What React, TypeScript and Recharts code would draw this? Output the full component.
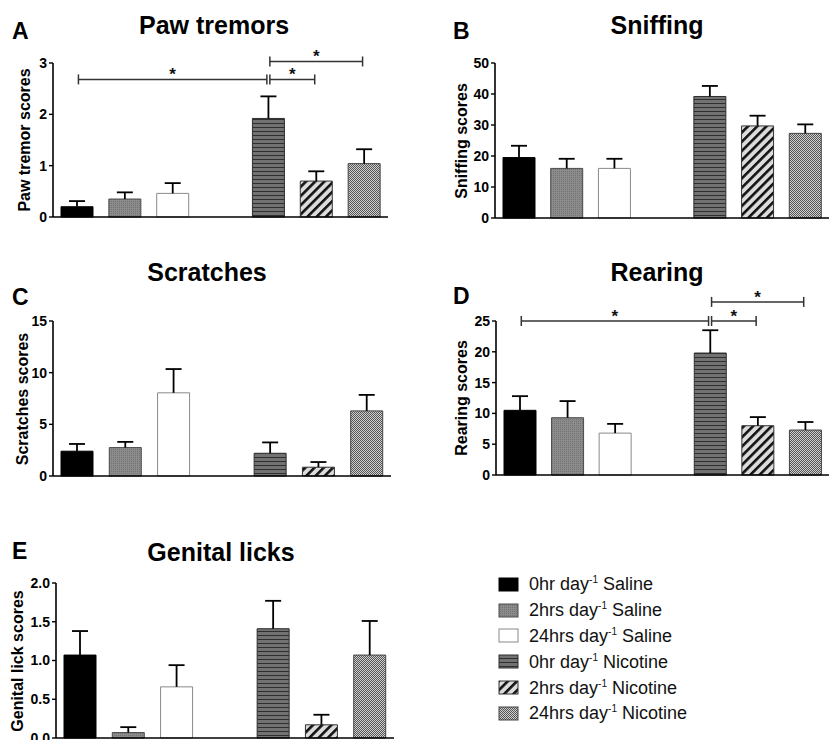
import React from 'react';
import { BarChart, Bar, XAxis, YAxis, Cell, ReferenceLine } from 'recharts';

// seven slots on the x axis, the middle one is left empty
const groups = ['0hr Saline', '2hrs Saline', '24hrs Saline', 'gap', '0hr Nicotine', '2hrs Nicotine', '24hrs Nicotine'];

const legendDose = ['0hr', '2hrs', '24hrs', '0hr', '2hrs', '24hrs'];
const legendDrug = ['Saline', 'Saline', 'Saline', 'Nicotine', 'Nicotine', 'Nicotine'];

const pawMean = [0.2, 0.35, 0.46, null, 1.92, 0.7, 1.04];
const pawSem = [0.11, 0.13, 0.2, null, 0.43, 0.19, 0.28];
const pawTicks = [0, 1, 2, 3];
const pawBrackets = [
  { from: '0hr Saline', to: '0hr Nicotine', y: 2.68 },
  { from: '0hr Nicotine', to: '2hrs Nicotine', y: 2.68 },
  { from: '0hr Nicotine', to: '24hrs Nicotine', y: 3.03 },
];

const sniffMean = [19.5, 16, 16, null, 39.2, 29.7, 27.3];
const sniffSem = [3.8, 3.1, 3.1, null, 3.4, 3.3, 2.9];
const sniffTicks = [0, 10, 20, 30, 40, 50];

const scratchMean = [2.4, 2.75, 8.05, null, 2.2, 0.85, 6.3];
const scratchSem = [0.7, 0.55, 2.3, null, 1.05, 0.5, 1.55];
const scratchTicks = [0, 5, 10, 15];

const rearMean = [10.5, 9.3, 6.8, null, 19.8, 8.0, 7.3];
const rearSem = [2.3, 2.7, 1.5, null, 3.7, 1.4, 1.3];
const rearTicks = [0, 5, 10, 15, 20, 25];
const rearBrackets = [
  { from: '0hr Saline', to: '0hr Nicotine', y: 25 },
  { from: '0hr Nicotine', to: '2hrs Nicotine', y: 25 },
  { from: '0hr Nicotine', to: '24hrs Nicotine', y: 28.1 },
];

const genitalMean = [1.07, 0.07, 0.66, null, 1.41, 0.17, 1.07];
const genitalSem = [0.31, 0.07, 0.28, null, 0.36, 0.13, 0.44];
const genitalTicks = [0, 0.5, 1, 1.5, 2];

const FONT = '"Liberation Sans", Arial, sans-serif';

const barStyles = [
  { fill: '#000', stroke: '#000' },
  { fill: 'url(#stipple)', stroke: '#4a4a4a' },
  { fill: '#fff', stroke: '#8a8a8a' },
  { fill: 'none', stroke: 'none' },
  { fill: 'url(#hstripe)', stroke: '#2e2e2e' },
  { fill: 'url(#diag)', stroke: '#333' },
  { fill: 'url(#check)', stroke: '#444' },
];

function Patterns() {
  return (
    <svg width={0} height={0} style={{ position: 'absolute' }}>
      <defs>
        <pattern id="stipple" width={2} height={2} patternUnits="userSpaceOnUse">
          <rect width={2} height={2} fill="#8c8c8c" />
          <rect width={1} height={1} fill="#727272" />
        </pattern>
        <pattern id="hstripe" width={4} height={4} patternUnits="userSpaceOnUse">
          <rect width={4} height={4} fill="#727272" />
          <rect y={0} width={4} height={1} fill="#2f2f2f" />
        </pattern>
        <pattern id="diag" width={6.5} height={10} patternUnits="userSpaceOnUse" patternTransform="rotate(45)">
          <rect width={6.5} height={10} fill="#dcdcdc" />
          <rect width={2.6} height={10} fill="#111" />
        </pattern>
        <pattern id="check" width={2} height={2} patternUnits="userSpaceOnUse">
          <rect width={2} height={2} fill="#cfcfcf" />
          <rect width={1} height={1} fill="#555" />
          <rect x={1} y={1} width={1} height={1} fill="#555" />
        </pattern>
      </defs>
    </svg>
  );
}

function Whisker(props: any) {
  const { x, y, width, height, payload } = props;
  if (!payload || payload.sem == null || !isFinite(y) || !isFinite(height)) return null;
  const cx = x + width / 2;
  return (
    <g>
      <line x1={cx} y1={y + height} x2={cx} y2={y} stroke="#000" strokeWidth={1.8} />
      <line x1={cx - 8} y1={y} x2={cx + 8} y2={y} stroke="#000" strokeWidth={1.8} />
    </g>
  );
}

function Bracket(props: any) {
  const { x1, y1, x2 } = props;
  const a = x1 + 1.5;
  const b = x2 - 1.5;
  return (
    <g>
      <line x1={a} y1={y1} x2={b} y2={y1} stroke="#333" strokeWidth={1.5} />
      <line x1={a} y1={y1 - 5} x2={a} y2={y1 + 5} stroke="#333" strokeWidth={1.5} />
      <line x1={b} y1={y1 - 5} x2={b} y2={y1 + 5} stroke="#333" strokeWidth={1.5} />
      <text x={(a + b) / 2} y={y1 + 1} textAnchor="middle" fontSize={17} fontWeight="bold" fontFamily={FONT} fill="#111">*</text>
    </g>
  );
}

type PanelCfg = {
  letter: string;
  title: string;
  yLabel: string;
  mean: (number | null)[];
  sem: (number | null)[];
  ticks: number[];
  brackets?: { from: string; to: string; y: number }[];
  decimals?: number;
  plot: { x: number; y: number; w: number; h: number };
  labelX: number;
  titleX: number;
  titleY: number;
  letterX: number;
  letterY: number;
};

const AXIS_W = 50;
const M_TOP = 40;
const M_BOTTOM = 12;
const X_AXIS_H = 1;

function Panel({ cfg }: { cfg: PanelCfg }) {
  const { plot, ticks } = cfg;
  const rows = groups.map((g, i) => ({ group: g, mean: cfg.mean[i], sem: cfg.sem[i] }));
  const tickStyle = { fill: '#000', fontSize: 14, fontWeight: 'bold', fontFamily: FONT };
  return (
    <>
      <div style={{ position: 'absolute', left: cfg.letterX, top: cfg.letterY - 12, fontSize: 23, lineHeight: '23px', fontWeight: 'bold', fontFamily: FONT }}>
        {cfg.letter}
      </div>
      <div style={{ position: 'absolute', left: cfg.titleX, top: cfg.titleY - 12.5, transform: 'translateX(-50%)', whiteSpace: 'nowrap', fontSize: 25, lineHeight: '25px', fontWeight: 'bold', fontFamily: FONT }}>
        {cfg.title}
      </div>
      <div style={{ position: 'absolute', left: cfg.labelX, top: plot.y + plot.h / 2, transform: 'translate(-50%, -50%) rotate(-90deg)', whiteSpace: 'nowrap', fontSize: 16, lineHeight: '16px', fontWeight: 'bold', fontFamily: FONT }}>
        {cfg.yLabel}
      </div>
      <div style={{ position: 'absolute', left: plot.x - AXIS_W, top: plot.y - M_TOP }}>
        <BarChart
          width={AXIS_W + plot.w}
          height={M_TOP + plot.h + X_AXIS_H + M_BOTTOM}
          data={rows}
          margin={{ top: M_TOP, right: 0, bottom: M_BOTTOM, left: 0 }}
          barSize={32}
        >
          <XAxis dataKey="group" type="category" tick={false} tickLine={false} axisLine={{ stroke: '#000', strokeWidth: 1.6 }} height={X_AXIS_H} />
          <YAxis
            type="number"
            domain={[ticks[0], ticks[ticks.length - 1]]}
            ticks={ticks}
            interval={0}
            width={AXIS_W}
            tickSize={4}
            tickMargin={2}
            tick={tickStyle}
            tickLine={{ stroke: '#000', strokeWidth: 1.4 }}
            axisLine={{ stroke: '#000', strokeWidth: 1.6 }}
            tickFormatter={(v: number) => (cfg.decimals ? v.toFixed(cfg.decimals) : String(v))}
          />
          <Bar dataKey="mean" stackId="s" isAnimationActive={false}>
            {rows.map((r, i) => (
              <Cell key={r.group} fill={barStyles[i].fill} stroke={barStyles[i].stroke} strokeWidth={1} />
            ))}
          </Bar>
          <Bar dataKey="sem" stackId="s" isAnimationActive={false} shape={(p: any) => <Whisker {...p} />} />
          {(cfg.brackets || []).map((b, i) => (
            <ReferenceLine
              key={i}
              segment={[{ x: b.from, y: b.y }, { x: b.to, y: b.y }]}
              ifOverflow="visible"
              shape={(p: any) => <Bracket {...p} />}
            />
          ))}
        </BarChart>
      </div>
    </>
  );
}

const panels: PanelCfg[] = [
  {
    letter: 'A', title: 'Paw tremors', yLabel: 'Paw tremor scores', mean: pawMean, sem: pawSem, ticks: pawTicks, brackets: pawBrackets,
    plot: { x: 53, y: 63, w: 335, h: 154 }, labelX: 25, titleX: 214, titleY: 25, letterX: 12, letterY: 32,
  },
  {
    letter: 'B', title: 'Sniffing', yLabel: 'Sniffing scores', mean: sniffMean, sem: sniffSem, ticks: sniffTicks,
    plot: { x: 495, y: 63, w: 334, h: 155 }, labelX: 462, titleX: 657, titleY: 25, letterX: 453, letterY: 32,
  },
  {
    letter: 'C', title: 'Scratches', yLabel: 'Scratches scores', mean: scratchMean, sem: scratchSem, ticks: scratchTicks,
    plot: { x: 53, y: 321, w: 338, h: 155 }, labelX: 23, titleX: 207, titleY: 272, letterX: 12, letterY: 298,
  },
  {
    letter: 'D', title: 'Rearing', yLabel: 'Rearing scores', mean: rearMean, sem: rearSem, ticks: rearTicks, brackets: rearBrackets,
    plot: { x: 496, y: 321, w: 333, h: 154 }, labelX: 462, titleX: 657, titleY: 272, letterX: 453, letterY: 297,
  },
  {
    letter: 'E', title: 'Genital licks', yLabel: 'Genital lick scores', mean: genitalMean, sem: genitalSem, ticks: genitalTicks, decimals: 1,
    plot: { x: 56, y: 583, w: 338, h: 155 }, labelX: 18, titleX: 221, titleY: 552, letterX: 12, letterY: 552,
  },
];

function LegendBox() {
  const items = groups.map((g, i) => ({ g, i })).filter((d) => d.g !== 'gap');
  return (
    <div style={{ position: 'absolute', left: 498, top: 572, fontFamily: FONT, fontSize: 18, color: '#111' }}>
      {items.map((d, k) => (
        <div key={d.g} style={{ display: 'flex', alignItems: 'center', height: 25.8 }}>
          <svg width={22} height={16} style={{ marginRight: 9 }}>
            <rect x={1} y={1} width={19} height={13} fill={barStyles[d.i].fill} stroke={barStyles[d.i].stroke} strokeWidth={1} />
          </svg>
          <span style={{ whiteSpace: 'nowrap' }}>
            {legendDose[k]} day<span style={{ fontSize: 10, position: 'relative', top: -7 }}>-1</span> {legendDrug[k]}
          </span>
        </div>
      ))}
    </div>
  );
}

export default function App() {
  return (
    <div style={{ position: 'relative', width: 830, height: 740, overflow: 'hidden', background: '#fff' }}>
      <style>{'body{margin:0;overflow:hidden}'}</style>
      <Patterns />
      {panels.map((p) => (
        <Panel key={p.letter} cfg={p} />
      ))}
      <LegendBox />
    </div>
  );
}
